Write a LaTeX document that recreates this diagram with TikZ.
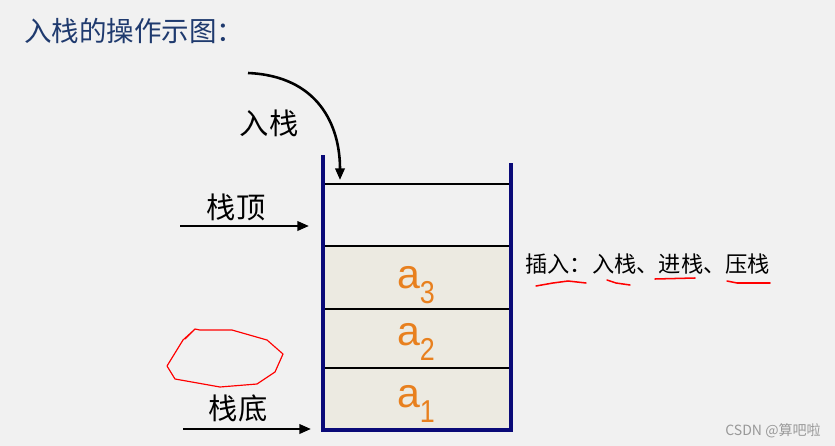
\documentclass[tikz,border=0pt]{standalone}
\usepackage{fontspec}
\setmainfont{Liberation Sans}
\newfontfamily\cjk{Noto Sans CJK SC}
\usetikzlibrary{arrows.meta}
\definecolor{bggray}{HTML}{F1F1F1}
\definecolor{titleblue}{HTML}{1F3A6E}
\definecolor{wallblue}{HTML}{0A0A78}
\definecolor{cellfill}{HTML}{ECEAE1}
\definecolor{elemorange}{HTML}{E8801E}
\newcommand{\elemtext}[1]{{\fontsize{35}{40}\selectfont a}\raisebox{-13pt}{\scalebox{0.85}[1]{\fontsize{27}{30}\selectfont #1}}}

\begin{document}
\begin{tikzpicture}[x=0.03cm,y=-0.03cm,
    wall/.style={wallblue,line width=3.4pt},
    slot/.style={black,line width=2.4pt},
    pointer/.style={black,line width=2.2pt,-{Triangle[length=10pt,width=8pt]}},
    lbl/.style={inner sep=0pt,font=\cjk\fontsize{25}{30}\selectfont},
    elem/.style={inner sep=0pt,text=elemorange},
    redline/.style={red,line width=1.3pt,line cap=round}]
    \fill[bggray] (0,0) rectangle (835,446);
    \useasboundingbox (0,0) rectangle (835,446);

    % title
    \node[anchor=west,inner sep=0pt,text=titleblue,font=\cjk\fontsize{23.5}{28}\selectfont] (title) at (24,31) {入栈的操作示图：};

    % stack frame
    \coordinate (LT) at (323,155);
    \coordinate (RT) at (511,163);
    \coordinate (LB) at (323,430);
    \coordinate (RB) at (511,430);
    \fill[cellfill] (325,246) rectangle (509,428);
    \draw[black,line width=1.6pt] (325,184) -- (509,184);
    \draw[slot] (325,246) -- (509,246);
    \draw[slot] (325,309) -- (509,309);
    \draw[slot] (325,368) -- (509,368);
    \draw[wall] (LT) -- (LB) -- (RB) -- (RT);

    % elements
    \node[elem] (a3) at (416,285) {\elemtext{3}};
    \node[elem] (a2) at (416,342) {\elemtext{2}};
    \node[elem] (a1) at (416,404) {\elemtext{1}};

    % push arrow
    \coordinate (PS) at (248,73);
    \coordinate (PE) at (340,180);
    \draw[pointer] (PS) .. controls (318,76) and (340,125) .. (PE);
    \node[lbl] (push) at (269,123) {入栈};

    % top and bottom pointers
    \coordinate (TS) at (180,226);
    \coordinate (TE) at (309,226);
    \draw[pointer] (TS) -- (TE);
    \node[lbl] (top) at (236,207) {栈顶};
    \coordinate (BS) at (183,429);
    \coordinate (BE) at (311,429);
    \draw[pointer] (BS) -- (BE);
    \node[lbl] (bottom) at (238,408) {栈底};

    % note
    \node[anchor=west,inner sep=0pt,font=\cjk\fontsize{19}{23}\selectfont] (note) at (525,264) {插入：入栈、进栈、压栈};
    \draw[redline] (536,286) -- (553,283) -- (568,281) -- (586,283);
    \draw[redline] (607,280) -- (616,283) -- (630,285);
    \draw[redline] (655,279) -- (695,278);
    \draw[redline] (727,281) -- (737,283) -- (770,283);

    % hand drawn loop
    \draw[red,line width=1pt,line join=round] (185,339) -- (195,329) -- (200,330) -- (232,330)
        -- (267,340) -- (283,354) -- (275,372) -- (257,384) -- (220,387) -- (175,379)
        -- (167,366) -- (183,340) -- (194,330);

    % watermark
    \node[anchor=east,inner sep=0pt,text=gray!80,font=\cjk\fontsize{12}{14}\selectfont] (wm) at (821,431) {CSDN @算吧啦};
\end{tikzpicture}
\end{document}
